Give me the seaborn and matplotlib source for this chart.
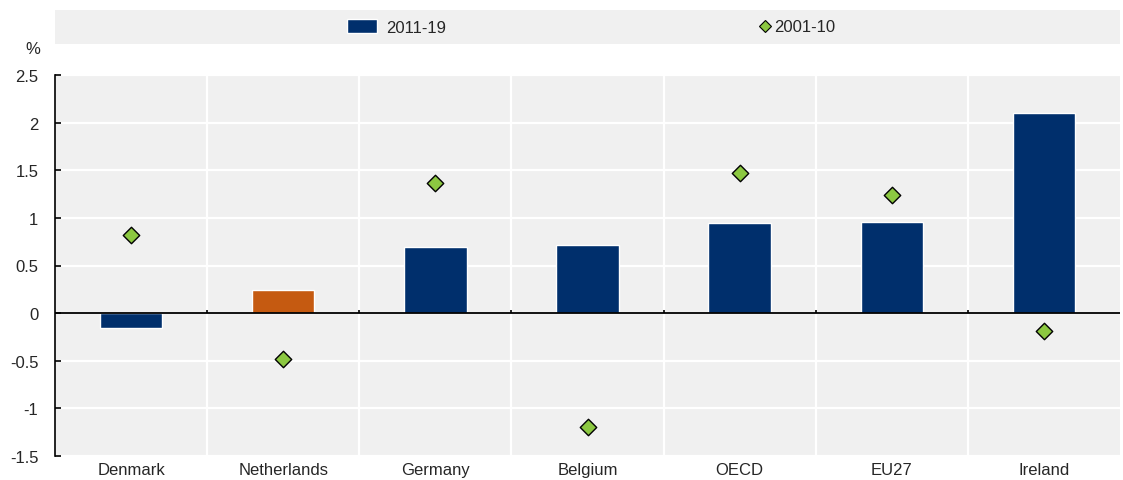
import numpy as np
import pandas as pd
import matplotlib
matplotlib.use("Agg")
import matplotlib.pyplot as plt
from matplotlib.patches import Patch
from matplotlib.lines import Line2D
import seaborn as sns

countries = ["Denmark", "Netherlands", "Germany", "Belgium", "OECD", "EU27", "Ireland"]
recent = [-0.16, 0.24, 0.69, 0.72, 0.945, 0.955, 2.10]   # 2011-19
earlier = [0.82, -0.48, 1.365, -1.20, 1.47, 1.24, -0.19]  # 2001-10
bar_colors = ["#002F6C", "#C55A11", "#002F6C", "#002F6C", "#002F6C", "#002F6C", "#002F6C"]

df = pd.DataFrame({"country": countries, "recent": recent, "earlier": earlier})

sns.set_theme(style="white")
plt.rcParams["font.family"] = ["Liberation Sans", "DejaVu Sans"]

fig = plt.figure(figsize=(11.23, 4.81), dpi=100)
ax = fig.add_axes([55 / 1123, 1 - 457 / 481, 1065 / 1123, 381 / 481])
ax.set_facecolor("#F0F0F0")

sns.barplot(data=df, x="country", y="recent", hue="country", palette=bar_colors,
            width=0.41, saturation=1, legend=False, ax=ax, zorder=3)
sns.scatterplot(data=df, x="country", y="earlier", marker="D", s=70, color="#8CC841",
                edgecolor="black", linewidth=1, ax=ax, zorder=5)

n = len(countries)
ax.set_xlim(-0.5, n - 0.5)
ax.set_ylim(-1.5, 2.5)
ax.set_yticks(np.arange(-1.5, 2.51, 0.5))
ax.set_yticklabels(["-1.5", "-1", "-0.5", "0", "0.5", "1", "1.5", "2", "2.5"])
bounds = np.arange(0.5, n - 0.5, 1)
ax.set_xticks(bounds, minor=True)
ax.grid(axis="y", which="major", color="white", lw=1.6, zorder=0)
ax.grid(axis="x", which="minor", color="white", lw=1.6, zorder=0)
ax.set_axisbelow(True)
ax.axhline(0, color="black", lw=1.3, zorder=4)
ax.vlines(bounds, 0, 0.035, color="black", lw=1.2, zorder=4)

for s in ["top", "right", "bottom"]:
    ax.spines[s].set_visible(False)
ax.spines["left"].set_color("black")
ax.spines["left"].set_linewidth(1.2)
ax.tick_params(axis="y", direction="in", length=4, width=1.2, color="black",
               labelsize=12, pad=12, left=True)
ax.tick_params(axis="x", which="both", length=0, labelsize=12, pad=4)
ax.set_xlabel("")
ax.set_ylabel("")
fig.text(33 / 1123, 1 - 50 / 481, "%", fontsize=12, ha="center", va="center")

# legend band
lax = fig.add_axes([55 / 1123, 1 - 45 / 481, 1065 / 1123, 34 / 481])
lax.set_facecolor("#F0F0F0")
lax.set_xticks([])
lax.set_yticks([])
for s in lax.spines.values():
    s.set_visible(False)
bar_handle = [Patch(facecolor="#002F6C", label="2011-19")]
dot_handle = [Line2D([], [], marker="D", ls="", markersize=6, markerfacecolor="#8CC841",
                     markeredgecolor="black", markeredgewidth=0.8, label="2001-10")]
leg1 = lax.legend(handles=bar_handle, loc="center left", frameon=False, fontsize=12,
                  handlelength=1.75, handleheight=0.9, handletextpad=0.6,
                  bbox_to_anchor=((342 - 55 - 8) / 1065, 0.5), borderpad=0.3)
lax.add_artist(leg1)
lax.legend(handles=dot_handle, loc="center left", frameon=False, fontsize=12,
           handlelength=0.6, handletextpad=0.25,
           bbox_to_anchor=((755 - 55 - 8) / 1065, 0.5), borderpad=0.3)

fig.savefig("out.png", dpi=100)
